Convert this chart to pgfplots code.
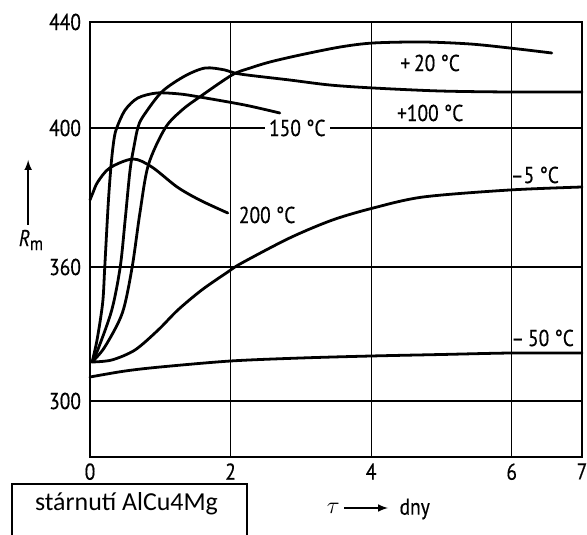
\documentclass[border=0pt]{standalone}
\usepackage{pgfplots}
\pgfplotsset{compat=1.18}
\usepackage{fontspec}
\setmainfont{PT Sans}[FakeStretch=0.85, FakeBold=0.4]
\newfontfamily\boxfont{Carlito}
\newcommand\lbl{\fontsize{11.5}{13}\selectfont}

\pgfplotsset{curve/.style={black, solid, no markers, line width=1.4pt, line join=round, line cap=round, smooth, tension=0.5}}

\begin{document}
\begin{tikzpicture}
\begin{axis}[
    at={(0,0)}, anchor=south west,
    scale only axis,
    width=246bp, height=217.5bp,
    xmin=0, xmax=7, ymin=0, ymax=435,
    xtick={0,2,4,6,7}, xticklabels={0,2,4,6,7},
    % the drawn Rm scale is not linear: ticks sit where the figure puts them
    ytick={56,190,329,435}, yticklabels={300,360,400,440},
    grid=major,
    grid style={black, line width=0.6pt},
    axis line style={line width=0.6pt},
    major tick length=0pt,
    tick label style={font=\lbl},
    xticklabel style={yshift=-2bp, inner sep=1pt},
    yticklabel style={xshift=-1bp},
    clip=false,
]

% +20 C
\addplot[curve] coordinates {(0.03,95) (0.21,110) (0.46,144) (0.60,190) (0.71,244) (0.83,292)
  (1.07,329) (1.31,347) (1.56,360) (2.02,382) (2.28,389) (2.56,395) (2.99,402)
  (3.56,410) (4.03,414) (4.74,415) (5.41,413) (5.97,409) (6.57,404)};
% +100 C
\addplot[curve] coordinates {(0.03,95) (0.11,107) (0.31,147) (0.43,190) (0.50,237) (0.57,287)
  (0.63,312) (0.68,329) (0.75,340) (1.02,365) (1.35,381) (1.64,389) (1.92,387)
  (2.13,383) (2.84,377) (3.41,372) (4.03,369) (4.98,366) (5.97,365) (7.0,365)};
% 150 C
\addplot[curve] coordinates {(0.03,95) (0.10,117) (0.18,154) (0.21,190) (0.26,254) (0.30,292)
  (0.34,317) (0.38,329) (0.50,347) (0.68,359) (0.95,364) (1.28,363) (1.56,360)
  (2.20,352) (2.70,344)};
% 200 C
\addplot[curve] coordinates {(0,257) (0.04,264) (0.11,275) (0.28,289) (0.61,298) (0.88,290)
  (1.24,270) (1.56,257) (1.96,244)};
% -5 C
\addplot[curve] coordinates {(0.03,95) (0.31,97) (0.64,107) (0.97,127) (1.25,147) (1.59,167)
  (1.96,185) (2.16,194) (2.84,219) (3.45,237) (4.03,249) (4.74,260) (5.97,267) (7.0,270)};
% -50 C
\addplot[curve] coordinates {(0,80) (0.5,86) (1,90) (2,96) (3,99) (4,101) (5,102.5) (6,104) (7,104)};

\node[font=\lbl] at (axis cs:4.84,394) {+\,20 °C};
\node[font=\lbl] at (axis cs:4.84,344) {+100 °C};
\node[font=\lbl, fill=white, inner sep=2pt] at (axis cs:2.95,329) {150 °C};
\node[font=\lbl] at (axis cs:2.52,242) {200 °C};
\node[font=\lbl] at (axis cs:6.33,282) {–5 °C};
\node[font=\lbl] at (axis cs:6.44,119) {–\,50 °C};

% axis titles
\draw[-latex, line width=0.7pt] (axis cs:-0.88,232) -- (axis cs:-0.88,297);
\node[font=\lbl] at (axis cs:-0.84,217) {\textit{R}\raisebox{-0.35ex}{\fontsize{9.5}{10}\selectfont m}};
\node[font=\large] at (axis cs:3.46,-51) {$\tau$};
\draw[-latex, line width=0.7pt] (axis cs:3.62,-51) -- (axis cs:4.24,-51);
\node[font=\lbl] at (axis cs:4.62,-52) {dny};
\end{axis}

\draw[line width=0.6pt] (-39bp,-45bp) -- (-39bp,-13.5bp) -- (78.5bp,-13.5bp) -- (78.5bp,-45bp);
\node[font=\boxfont\fontsize{13}{15}\selectfont, inner sep=0pt] at (18.25bp,-23.5bp) {stárnutí AlCu4Mg};

\pgfresetboundingbox
\useasboundingbox (-45bp,-39bp) rectangle (248.5bp,228.5bp);
\end{tikzpicture}
\end{document}
